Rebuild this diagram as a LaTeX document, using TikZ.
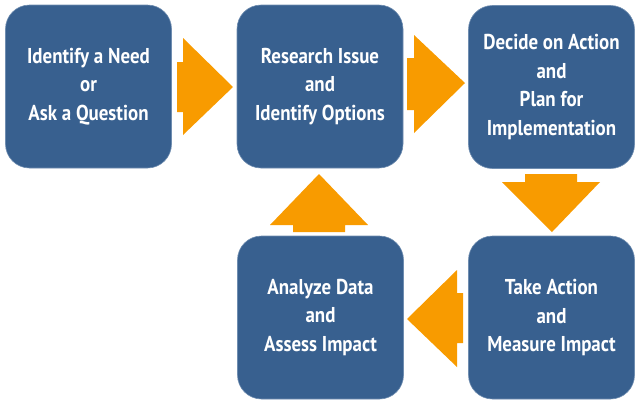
\documentclass[tikz,border=0pt]{standalone}
\usepackage{fontspec}
\newfontfamily\boxfont{PT Sans}[FakeStretch=0.88]
\definecolor{boxblue}{HTML}{38608F}
\definecolor{boxedge}{HTML}{6F8DB0}
\definecolor{flow}{HTML}{F89B00}
\tikzset{
  stagebox/.style={fill=boxblue, draw=boxedge, line width=0.6pt, rounded corners=24pt,
    minimum width=166pt, minimum height=163pt, text=white, align=center,
    font=\boxfont\bfseries\fontsize{21.5}{28.5}\selectfont},
  flowarrow/.style={fill=flow, draw=none}
}
\begin{document}
\begin{tikzpicture}[x=1pt,y=-1pt]
\useasboundingbox (0,0) rectangle (640,408);
\node[stagebox] (n1) at (88.5,86.5) {Identify a Need\\or\\Ask a Question};
\node[stagebox] (n2) at (320,86.5) {Research Issue\\and\\Identify Options};
\node[stagebox] (n3) at (551.5,87) {Decide on Action\\and\\Plan for\\Implementation};
\node[stagebox] (n5) at (551.5,317.5) {Take Action\\and\\Measure Impact};
\node[stagebox] (n4) at (320.5,317.5) {Analyze Data\\and\\Assess Impact};
% right arrow 1
\fill[flowarrow] (177,62) -- (183,62) -- (183,38) -- (233,87) -- (183,135) -- (183,112) -- (177,112) -- cycle;
% right arrow 2
\fill[flowarrow] (407,58) -- (414,58) -- (414,35) -- (465,83) -- (414,133) -- (414,110) -- (407,110) -- cycle;
% down arrow
\fill[flowarrow] (525,174) -- (577,174) -- (577,182) -- (600,182) -- (552,232) -- (502,182) -- (525,182) -- cycle;
% left arrow
\fill[flowarrow] (463,293) -- (463,343) -- (457,343) -- (457,367) -- (407,319) -- (457,270) -- (457,293) -- cycle;
% up arrow
\fill[flowarrow] (293,232) -- (345,232) -- (345,225) -- (368,225) -- (319,174) -- (270,225) -- (293,225) -- cycle;
\end{tikzpicture}
\end{document}
